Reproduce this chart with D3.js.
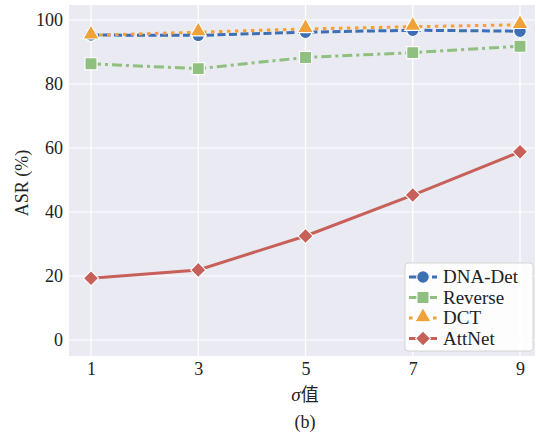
<!DOCTYPE html>
<html><head><meta charset="utf-8">
<script src="https://cdn.jsdelivr.net/npm/d3@7"></script>
<style>body{margin:0;background:#fff}svg{display:block}</style>
</head><body>
<svg id="c" width="536" height="434"></svg>
<script>
const xValues = [1, 3, 5, 7, 9];
const yTicks = [0, 20, 40, 60, 80, 100];
const dnaDet = [95.3, 95.2, 96.2, 96.8, 96.5];
const reverse = [86.3, 84.8, 88.3, 89.8, 91.8];
const dct = [95.2, 96.2, 97.2, 97.9, 98.5];
const attNet = [19.3, 21.9, 32.5, 45.3, 58.8];
const seriesNames = ["DNA-Det", "Reverse", "DCT", "AttNet"];

const series = [
  {name: seriesNames[0], values: dnaDet, color: "#3d6fb5", dash: "8,3.5", marker: "circle"},
  {name: seriesNames[1], values: reverse, color: "#8fc07f", dash: "10,4,3,4", marker: "square"},
  {name: seriesNames[2], values: dct, color: "#f0a23a", dash: "3.5,4.5", marker: "triangle"},
  {name: seriesNames[3], values: attNet, color: "#c8605a", dash: null, marker: "diamond"}
];

const SERIF = '"Liberation Serif", "Times New Roman", serif';
const svg = d3.select("#c");
const plot = {left: 69, right: 535, top: 5, bottom: 356};
const x = d3.scaleLinear().domain([1, 9]).range([91, 520]);
const y = d3.scaleLinear().domain([0, 100]).range([340, 20]);

svg.append("rect").attr("x", plot.left).attr("y", plot.top)
  .attr("width", plot.right - plot.left).attr("height", plot.bottom - plot.top)
  .attr("fill", "#eaeaf2");

// grid
svg.append("g").selectAll("line").data(xValues).join("line")
  .attr("x1", d => x(d)).attr("x2", d => x(d))
  .attr("y1", plot.top).attr("y2", plot.bottom)
  .attr("stroke", "#fff").attr("stroke-width", 1.2);
svg.append("g").selectAll("line").data(yTicks).join("line")
  .attr("y1", d => y(d)).attr("y2", d => y(d))
  .attr("x1", plot.left).attr("x2", plot.right)
  .attr("stroke", "#fff").attr("stroke-width", 1.2);

// axes (labels only)
const xAxis = svg.append("g").attr("transform", `translate(0,${plot.bottom})`)
  .call(d3.axisBottom(x).tickValues(xValues).tickSize(0).tickPadding(6).tickFormat(d3.format("d")));
const yAxis = svg.append("g").attr("transform", `translate(${plot.left},0)`)
  .call(d3.axisLeft(y).tickValues(yTicks).tickSize(0).tickPadding(6));
[xAxis, yAxis].forEach(a => {
  a.attr("font-family", null).attr("font-size", null);
  a.select(".domain").remove();
  a.selectAll("text").style("font-family", SERIF).style("font-size", "18px").attr("fill", "#222");
});

svg.append("text").attr("transform", "translate(28,183) rotate(-90)")
  .attr("text-anchor", "middle").style("font-family", SERIF).style("font-size", "18px").attr("fill", "#222")
  .text("ASR (%)");
const xl = svg.append("text").attr("x", 305).attr("y", 401).attr("text-anchor", "middle")
  .style("font-family", SERIF).style("font-size", "19px").attr("fill", "#222");
xl.append("tspan").style("font-style", "italic").text("σ");
xl.append("tspan").style("font-family", '"Noto Sans CJK SC", sans-serif').style("font-size", "18px").text("值");
svg.append("text").attr("x", 305).attr("y", 428).attr("text-anchor", "middle")
  .style("font-family", SERIF).style("font-size", "18px").attr("fill", "#222").text("(b)");

function markerPath(type) {
  const map = {circle: [d3.symbolCircle, 125], square: [d3.symbolSquare, 145], triangle: [d3.symbolTriangle, 115], diamond: [d3.symbolSquare, 115]};
  const [t, s] = map[type];
  return d3.symbol().type(t).size(s)();
}
function drawMarker(g, type, cx, cy, color) {
  const p = g.append("path").attr("d", markerPath(type))
    .attr("fill", color).attr("stroke", "#fff").attr("stroke-width", 1.1);
  let tr = `translate(${cx},${cy})`;
  if (type === "diamond") tr += " rotate(45)";
  if (type === "triangle") tr += " translate(0,-1)";
  p.attr("transform", tr);
}

const line = d3.line().x((d, i) => x(xValues[i])).y(d => y(d));
series.forEach(s => {
  const g = svg.append("g");
  g.append("path").datum(s.values).attr("d", line).attr("fill", "none")
    .attr("stroke", s.color).attr("stroke-width", 3)
    .attr("stroke-dasharray", s.dash);
  s.values.forEach((v, i) => drawMarker(g, s.marker, x(xValues[i]), y(v), s.color));
});

// legend
const lg = svg.append("g");
lg.append("rect").attr("x", 405).attr("y", 263).attr("width", 128).attr("height", 88)
  .attr("rx", 3).attr("fill", "#fff").attr("fill-opacity", 0.9).attr("stroke", "#ccc").attr("stroke-width", 0.8);
series.forEach((s, i) => {
  const cy = 277 + i * 20.5;
  lg.append("line").attr("x1", 409).attr("x2", 437).attr("y1", cy).attr("y2", cy)
    .attr("stroke", s.color).attr("stroke-width", 3).attr("stroke-dasharray", s.dash);
  drawMarker(lg, s.marker, 423, cy, s.color);
  lg.append("text").attr("x", 443).attr("y", cy + 6)
    .style("font-family", SERIF).style("font-size", "19px").attr("fill", "#222").text(s.name);
});
</script>
</body></html>
